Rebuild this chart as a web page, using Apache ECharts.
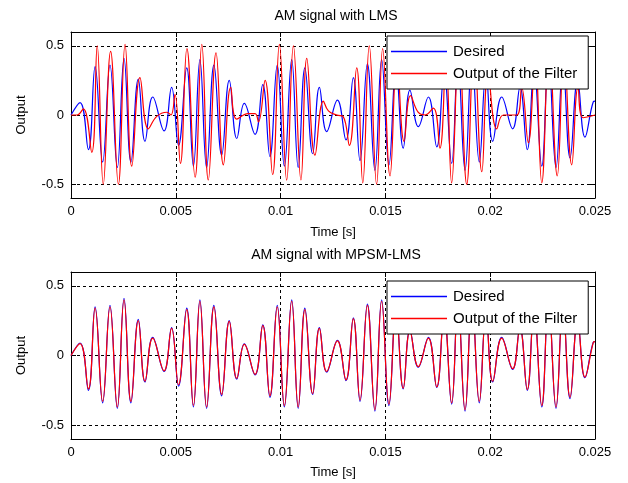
<!DOCTYPE html>
<html><head><meta charset="utf-8">
<script src="https://cdn.jsdelivr.net/npm/echarts@6/dist/echarts.min.js"></script>
<style>html,body{margin:0;padding:0;background:#fff}#c{width:628px;height:483px}</style>
</head><body><div id="c"></div>
<script>
// Desired signal (same in both panels): time [s] and value
const desiredT = [0,0.00043,0.00083,0.00115,0.00151,0.00186,0.00221,0.00253,0.00286,0.00321,0.00353,0.00390,0.00444,0.00480,0.00513,0.00552,0.00584,0.00615,0.00647,0.00682,0.00719,0.00755,0.00791,0.00827,0.00878,0.00915,0.00949,0.00984,0.01018,0.01053,0.01084,0.01116,0.01153,0.01185,0.01220,0.01271,0.01312,0.01347,0.01379,0.01414,0.01450,0.01482,0.01517,0.01551,0.01585,0.01617,0.01657,0.01705,0.01745,0.01780,0.01816,0.01846,0.01880,0.01913,0.01948,0.01980,0.02012,0.02055,0.02107,0.02142,0.02177,0.02209,0.02246,0.02278,0.02314,0.02347,0.02381,0.02417,0.02452,0.02492,0.02500];
const desiredV = [0,0.09,-0.25,0.35,-0.34,0.36,-0.38,0.41,-0.34,0.26,-0.19,0.13,-0.115,0.20,-0.22,0.34,-0.37,0.40,-0.38,0.36,-0.29,0.25,-0.17,0.084,-0.14,0.22,-0.30,0.36,-0.37,0.40,-0.38,0.34,-0.28,0.20,-0.12,0.108,-0.18,0.27,-0.33,0.37,-0.40,0.40,-0.36,0.33,-0.24,0.18,-0.084,0.13,-0.23,0.30,-0.35,0.38,-0.40,0.40,-0.34,0.30,-0.19,0.13,-0.10,0.20,-0.25,0.33,-0.37,0.40,-0.38,0.36,-0.31,0.25,-0.16,0.096,0.10];
// MPSM-LMS filter output (same sample times as desired)
const mpsmOutV = [0,0.085,-0.24,0.34,-0.33,0.35,-0.37,0.40,-0.33,0.25,-0.185,0.125,-0.11,0.195,-0.21,0.33,-0.36,0.39,-0.37,0.35,-0.28,0.245,-0.165,0.08,-0.135,0.215,-0.29,0.35,-0.36,0.39,-0.37,0.33,-0.275,0.195,-0.115,0.105,-0.175,0.265,-0.32,0.36,-0.39,0.39,-0.35,0.32,-0.235,0.175,-0.08,0.125,-0.225,0.29,-0.34,0.37,-0.39,0.39,-0.33,0.29,-0.185,0.125,-0.095,0.195,-0.245,0.32,-0.36,0.39,-0.37,0.35,-0.30,0.245,-0.155,0.094,0.10];
// LMS filter output
const lmsOutT = [0,0.00029,0.00059,0.00099,0.00125,0.00154,0.00189,0.00226,0.00258,0.00290,0.00329,0.00369,0.00409,0.00457,0.00477,0.00496,0.00522,0.00553,0.00592,0.00624,0.00655,0.00692,0.00727,0.00762,0.00791,0.00844,0.00878,0.00894,0.00926,0.00962,0.00994,0.01029,0.01061,0.01097,0.01125,0.01164,0.01204,0.01228,0.01268,0.01298,0.01328,0.01363,0.01392,0.01423,0.01458,0.01487,0.01522,0.01555,0.01589,0.01620,0.01656,0.01689,0.01729,0.01760,0.01789,0.01816,0.01851,0.01888,0.01923,0.01960,0.01990,0.02031,0.02063,0.02127,0.02150,0.02182,0.02214,0.02246,0.02281,0.02320,0.02352,0.02389,0.02419,0.02443,0.02500];
const lmsOutV = [0,0,0.045,-0.27,0.50,-0.50,0.46,-0.50,0.51,-0.37,0.27,-0.10,-0.01,0.02,0,0.15,-0.35,0.48,-0.45,0.51,-0.47,0.45,-0.36,0.20,-0.03,0.01,0.01,-0.05,0.25,-0.43,0.51,-0.47,0.50,-0.47,0.41,-0.29,0.10,0.03,0,-0.01,-0.22,0.34,-0.49,0.50,-0.50,0.48,-0.44,0.40,-0.19,0.14,0.02,0,0.05,-0.24,0.40,-0.49,0.50,-0.50,0.50,-0.41,0.30,-0.10,0,0,0.20,-0.20,0.40,-0.49,0.50,-0.44,0.45,-0.36,0.20,-0.02,0];
const xTicks = [0,0.005,0.01,0.015,0.02,0.025];
const yTicks = [-0.5,0,0.5];
const titles = ['AM signal with LMS','AM signal with MPSM-LMS'];
const names = ['Desired','Output of the Filter'];
const colors = ['#0000ff','#ff0000'];

const FONT = 'Liberation Sans, Arial, sans-serif';
const zip = (t, v) => t.map((x, i) => [x, v[i]]);
const grids = [{left:71, top:32, width:524, height:166},{left:71, top:272, width:524, height:167}];
const legendPos = [{left:387, top:36},{left:387, top:281}];

const xAxis = [], yAxis = [];
grids.forEach((g, i) => {
  xAxis.push({type:'value', gridIndex:i, min:0, max:0.025, interval:0.005, position:'bottom',
    name:'Time [s]', nameLocation:'middle', nameGap:i===0 ? 28 : 27,
    nameTextStyle:{color:'#000', fontSize:13, fontFamily:FONT},
    axisLine:{show:true, onZero:false, lineStyle:{color:'#000', width:1}},
    axisTick:{show:true, inside:true, length:5, lineStyle:{color:'#000'}},
    axisLabel:{color:'#000', fontSize:13, fontFamily:FONT, margin:7},
    splitLine:{show:true, showMinLine:false, showMaxLine:false, lineStyle:{color:'#000', type:[3,3], width:1}}});
  xAxis.push({type:'value', gridIndex:i, min:0, max:0.025, interval:0.005, position:'top',
    axisLine:{show:true, onZero:false, lineStyle:{color:'#000', width:1}},
    axisTick:{show:true, inside:true, length:5, lineStyle:{color:'#000'}},
    axisLabel:{show:false}, splitLine:{show:false}});
  yAxis.push({type:'value', gridIndex:i, min:-0.6, max:0.6, position:'left',
    name:'Output', nameLocation:'middle', nameGap:43, nameRotate:90,
    nameTextStyle:{color:'#000', fontSize:13, fontFamily:FONT},
    axisLine:{show:true, onZero:false, lineStyle:{color:'#000', width:1}},
    axisTick:{show:true, inside:true, length:5, customValues:yTicks, lineStyle:{color:'#000'}},
    axisLabel:{color:'#000', fontSize:13, fontFamily:FONT, margin:7, customValues:yTicks},
    splitLine:{show:true, lineStyle:{color:'#000', type:[3,3], width:1}}});
  yAxis.push({type:'value', gridIndex:i, min:-0.6, max:0.6, position:'right',
    axisLine:{show:true, onZero:false, lineStyle:{color:'#000', width:1}},
    axisTick:{show:true, inside:true, length:5, customValues:yTicks, lineStyle:{color:'#000'}},
    axisLabel:{show:false}, splitLine:{show:false}});
});

const mk = (name, color, xi, yi, data) => ({type:'line', name, xAxisIndex:xi, yAxisIndex:yi,
  data, symbol:'none', smooth:0.45, color, itemStyle:{color, borderColor:color},
  lineStyle:{color, width:1.2}, animation:false});

const option = {
  animation:false,
  backgroundColor:'#fff',
  title: titles.map((t, i) => ({text:t, left:331, top: i===0 ? 4 : 243, textAlign:'center',
    textStyle:{color:'#000', fontSize:14, fontWeight:'normal', fontFamily:FONT}})),
  grid: grids,
  xAxis, yAxis,
  legend: legendPos.map(p => ({
    data: names.map((n, k) => ({name:n, icon:'rect',
      itemStyle:{color:colors[k], borderColor:colors[k], borderWidth:0, opacity:1}})),
    left:p.left, top:p.top, orient:'vertical',
    backgroundColor:'#fff', borderColor:'#000', borderWidth:1, borderRadius:0,
    padding:[8,11,8,4], itemWidth:56, itemHeight:1.4, itemGap:7,
    textStyle:{color:'#000', fontSize:15, fontFamily:FONT, padding:[0,0,0,1]}})),
  series: [
    mk(names[0], colors[0], 0, 0, zip(desiredT, desiredV)),
    mk(names[1], colors[1], 0, 0, zip(lmsOutT, lmsOutV)),
    mk(names[0], colors[0], 2, 2, zip(desiredT, desiredV)),
    mk(names[1], colors[1], 2, 2, zip(desiredT, mpsmOutV))
  ]
};
const chart = echarts.init(document.getElementById('c'), null, {renderer:'canvas'});
chart.setOption(option);
</script></body></html>
